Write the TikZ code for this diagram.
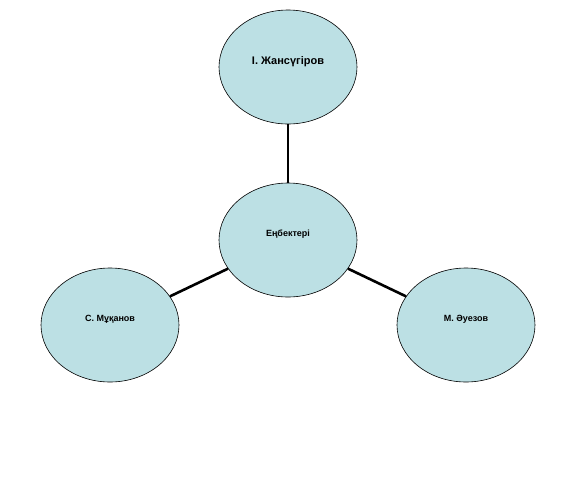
\documentclass[tikz,border=0pt]{standalone}
\usepackage{fontspec}
\setmainfont{Liberation Sans}
\usetikzlibrary{shapes.geometric}

\definecolor{bubblefill}{RGB}{188,224,228}

\tikzset{
	works/.style={
			ellipse, draw=black, line width=0.6pt, fill=bubblefill,
			minimum width=138pt, minimum height=114pt, inner sep=0pt,
			text depth=13pt,
			font=\fontsize{9}{10}\selectfont\bfseries, align=center},
	link/.style={line width=2.6pt, draw=black},
}

\begin{document}
\begin{tikzpicture}[x=1pt, y=-1pt]
	\useasboundingbox (0,0) rectangle (576,480);

	\node[works] (mid) at (288,240) {Еңбектері};
	\node[works, font=\fontsize{11}{12}\selectfont\bfseries] (top) at (288,67) {І. Жансүгіров};
	\node[works] (left) at (110,325) {С. Мұқанов};
	\node[works] (right) at (466,325) {М. Әуезов};

	\draw[link] (top) -- (mid);
	\draw[link] (left) -- (mid);
	\draw[link] (right) -- (mid);
\end{tikzpicture}
\end{document}
